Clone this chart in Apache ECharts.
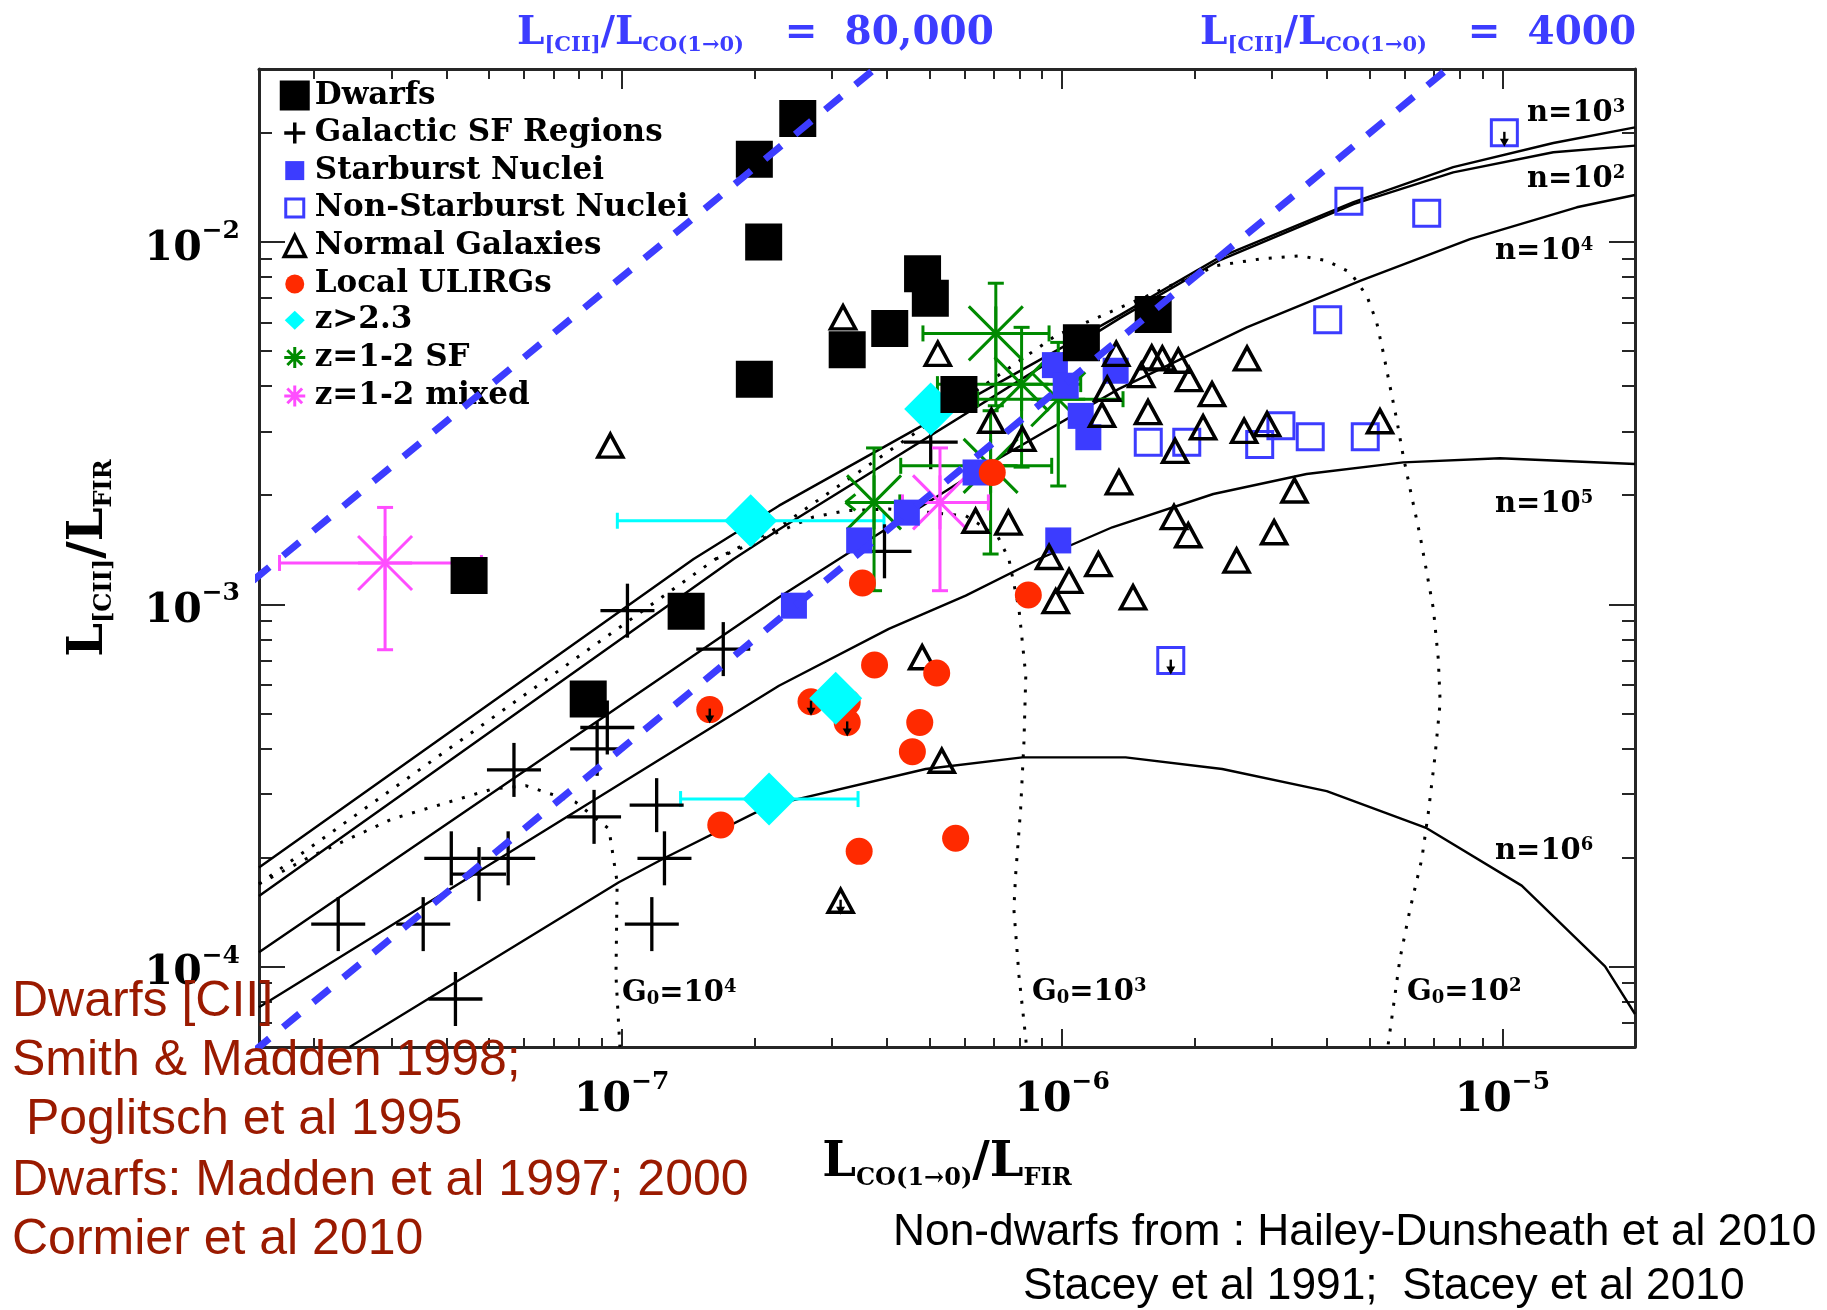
<!DOCTYPE html>
<html lang="en">
<head>
<meta charset="utf-8">
<title>[CII]/FIR versus CO(1-0)/FIR</title>
<script src="https://cdn.jsdelivr.net/npm/echarts@6.0.0/dist/echarts.min.js"></script>
<style>
  html, body { margin: 0; padding: 0; background: #ffffff; }
  #chart { width: 1827px; height: 1310px; }
</style>
</head>
<body>
<div id="chart"></div>
<script>
// ---------- axes ----------
const xRange = [1.5e-8, 2e-5];
const yRange = [6e-5, 0.03];
const xMajorTicks = [1e-7, 1e-6, 1e-5];
const xMinorTicks = [2e-8, 3e-8, 4e-8, 5e-8, 6e-8, 7e-8, 8e-8, 9e-8,
                     2e-7, 3e-7, 4e-7, 5e-7, 6e-7, 7e-7, 8e-7, 9e-7,
                     2e-6, 3e-6, 4e-6, 5e-6, 6e-6, 7e-6, 8e-6, 9e-6];
const yMajorTicks = [1e-4, 1e-3, 1e-2];
const yMinorTicks = [7e-5, 8e-5, 9e-5,
                     2e-4, 3e-4, 4e-4, 5e-4, 6e-4, 7e-4, 8e-4, 9e-4,
                     2e-3, 3e-3, 4e-3, 5e-3, 6e-3, 7e-3, 8e-3, 9e-3, 2e-2];

// ---------- observations: [L_CO/L_FIR, L_[CII]/L_FIR] ----------
const dwarfs = [
  [2.51e-7, 2.19e-2], [2.00e-7, 1.69e-2], [2.10e-7, 1.00e-2], [4.82e-7, 8.17e-3],
  [5.02e-7, 6.99e-3], [4.06e-7, 5.77e-3], [3.25e-7, 5.04e-3], [2.00e-7, 4.18e-3],
  [5.83e-7, 3.79e-3], [1.106e-6, 5.27e-3], [1.61e-6, 6.30e-3], [4.50e-8, 1.20e-3],
  [1.40e-7, 9.56e-4], [8.39e-8, 5.48e-4]
];
const galacticSF = [
  [1.03e-7, 9.60e-4], [1.70e-7, 7.52e-4], [9.27e-8, 4.57e-4], [8.79e-8, 3.99e-4],
  [5.69e-8, 3.49e-4], [8.65e-8, 2.59e-4], [1.20e-7, 2.79e-4], [4.10e-8, 1.99e-4],
  [4.74e-8, 1.80e-4], [5.52e-8, 1.99e-4], [1.25e-7, 1.99e-4], [2.27e-8, 1.31e-4],
  [3.54e-8, 1.31e-4], [1.17e-7, 1.31e-4], [4.19e-8, 8.14e-5], [5.03e-7, 2.80e-3],
  [3.95e-7, 1.40e-3]
];
const starburstNuclei = [
  [9.63e-7, 4.57e-3], [1.323e-6, 4.41e-3], [1.102e-6, 3.31e-3], [1.147e-6, 2.89e-3],
  [4.44e-7, 1.79e-3], [3.46e-7, 1.50e-3], [9.80e-7, 1.50e-3], [6.36e-7, 2.31e-3],
  [1.019e-6, 4.01e-3], [2.46e-7, 9.91e-4]
];
const nonStarburstNuclei = [
  [1.01e-5, 2.00e-2], [4.48e-6, 1.294e-2], [6.73e-6, 1.199e-2], [4.01e-6, 6.10e-3],
  [1.569e-6, 2.80e-3], [1.919e-6, 2.80e-3], [2.81e-6, 2.76e-3], [3.14e-6, 3.11e-3],
  [3.66e-6, 2.90e-3], [4.88e-6, 2.90e-3], [1.765e-6, 6.99e-4]
];
const nonStarburstLimit = [1, 0, 0, 0, 0, 0, 0, 0, 0, 0, 1];
const normalGalaxies = [
  [9.42e-8, 2.74e-3], [3.18e-7, 6.19e-3], [5.22e-7, 4.91e-3], [1.327e-6, 4.91e-3],
  [1.598e-6, 4.80e-3], [1.689e-6, 4.77e-3], [1.836e-6, 4.70e-3], [1.513e-6, 4.29e-3],
  [1.942e-6, 4.18e-3], [2.63e-6, 4.77e-3], [2.19e-6, 3.80e-3], [1.266e-6, 3.93e-3],
  [1.232e-6, 3.33e-3], [1.567e-6, 3.39e-3], [2.09e-6, 3.08e-3], [2.59e-6, 3.01e-3],
  [2.92e-6, 3.14e-3], [1.805e-6, 2.65e-3], [6.91e-7, 3.21e-3], [8.12e-7, 2.86e-3],
  [1.346e-6, 2.17e-3], [6.36e-7, 1.70e-3], [7.55e-7, 1.68e-3], [1.795e-6, 1.74e-3],
  [1.934e-6, 1.55e-3], [3.03e-6, 1.58e-3], [3.37e-6, 2.06e-3], [5.27e-6, 3.20e-3],
  [9.34e-7, 1.35e-3], [1.209e-6, 1.29e-3], [1.037e-6, 1.16e-3], [9.67e-7, 1.02e-3],
  [1.449e-6, 1.045e-3], [2.49e-6, 1.32e-3], [4.81e-7, 7.14e-4], [5.33e-7, 3.70e-4],
  [3.14e-7, 1.52e-4]
];
const normalLimit = [0,0,0,0,0,0,0,0,0,0,0,0,0,0,0,0,0,0,0,0,0,0,0,0,0,0,0,0,0,0,0,0,0,0,0,0,1];
const localULIRGs = [
  [1.584e-7, 5.12e-4], [1.678e-7, 2.46e-4], [3.52e-7, 1.145e-3], [8.38e-7, 1.061e-3],
  [3.75e-7, 6.80e-4], [5.19e-7, 6.46e-4], [2.69e-7, 5.38e-4], [3.25e-7, 4.72e-4],
  [3.25e-7, 5.36e-4], [4.75e-7, 4.72e-4], [4.57e-7, 3.92e-4], [5.73e-7, 2.26e-4],
  [3.46e-7, 2.08e-4], [6.94e-7, 2.31e-3]
];
const ulirgLimit = [1, 0, 0, 0, 0, 0, 1, 1, 0, 0, 0, 0, 0, 0];
// z > 2.3: [x, y, x_low, x_high]
const highZ = [
  [1.962e-7, 1.70e-3, 9.77e-8, 3.94e-7],
  [5.03e-7, 3.46e-3, null, null],
  [3.06e-7, 5.50e-4, null, null],
  [2.16e-7, 2.90e-4, 1.36e-7, 3.44e-7]
];
// z = 1-2: [x, y, x_low, x_high, y_low, y_high]
const midZStarForming = [
  [7.07e-7, 5.59e-3, 4.83e-7, 9.34e-7, 3.53e-3, 7.69e-3],
  [8.09e-7, 4.05e-3, 5.21e-7, 1.102e-6, 2.39e-3, 5.81e-3],
  [9.80e-7, 3.68e-3, 6.43e-7, 1.375e-6, 2.12e-3, 5.28e-3],
  [6.88e-7, 2.41e-3, 4.30e-7, 9.47e-7, 1.376e-3, 3.42e-3],
  [3.74e-7, 1.91e-3, 3.22e-7, 4.28e-7, 1.09e-3, 2.70e-3]
];
const midZStarFormingXLimit = [0, 0, 0, 0, 1];
const midZMixed = [
  [2.90e-8, 1.30e-3, 1.67e-8, 4.80e-8, 7.49e-4, 1.85e-3],
  [5.28e-7, 1.91e-3, 4.34e-7, 6.80e-7, 1.09e-3, 2.70e-3]
];

// ---------- PDR model tracks ----------
const densityN2 = [
  [1.5e-8, 1.567e-4], [1.795e-7, 1.333e-3], [2.275e-7, 1.607e-3], [1.353e-6, 6.16e-3],
  [2.284e-6, 8.91e-3], [4.59e-6, 1.272e-2], [7.73e-6, 1.556e-2], [1.305e-5, 1.767e-2],
  [2.0e-5, 1.843e-2]
];
const densityN3 = [
  [1.5e-8, 1.877e-4], [1.456e-7, 1.333e-3], [2.275e-7, 1.871e-3], [1.353e-6, 6.28e-3],
  [2.284e-6, 9.08e-3], [4.59e-6, 1.288e-2], [7.73e-6, 1.609e-2], [1.305e-5, 1.875e-2],
  [2.0e-5, 2.07e-2]
];
const densityN4 = [
  [1.5e-8, 1.095e-4], [2.275e-7, 1.045e-3], [6.48e-7, 2.35e-3], [1.346e-6, 3.93e-3],
  [2.626e-6, 5.81e-3], [4.75e-6, 7.81e-3], [8.44e-6, 1.018e-2], [1.475e-5, 1.246e-2],
  [2.0e-5, 1.347e-2]
];
const densityN5 = [
  [1.5e-8, 7.72e-5], [2.275e-7, 5.96e-4], [4.04e-7, 8.55e-4], [6.04e-7, 1.056e-3],
  [8.86e-7, 1.333e-3], [1.30e-6, 1.631e-3], [2.205e-6, 2.015e-3], [3.59e-6, 2.288e-3],
  [5.95e-6, 2.464e-3], [9.87e-6, 2.528e-3], [2.0e-5, 2.438e-3]
];
const densityN6 = [
  [2.41e-8, 6.0e-5], [9.85e-8, 1.709e-4], [1.251e-7, 1.994e-4], [2.159e-7, 2.776e-4],
  [4.90e-7, 3.51e-4], [8.12e-7, 3.78e-4], [1.394e-6, 3.78e-4], [2.31e-6, 3.51e-4],
  [3.99e-6, 3.05e-4], [6.73e-6, 2.41e-4], [1.106e-5, 1.673e-4], [1.71e-5, 1.002e-4],
  [2.0e-5, 7.40e-5]
];
const fieldG2 = [
  [1.5e-8, 1.691e-4], [1.633e-7, 1.333e-3], [2.275e-7, 1.631e-3], [9.67e-7, 5.51e-3],
  [2.245e-6, 8.60e-3], [2.813e-6, 8.97e-3], [3.47e-6, 9.16e-3], [3.99e-6, 8.87e-3],
  [4.51e-6, 8.24e-3], [4.92e-6, 7.10e-3], [5.18e-6, 6.00e-3], [5.36e-6, 4.96e-3],
  [5.55e-6, 4.01e-3], [5.75e-6, 3.24e-3], [5.95e-6, 2.57e-3], [6.17e-6, 2.08e-3],
  [6.50e-6, 1.546e-3], [6.97e-6, 9.70e-4], [7.15e-6, 7.06e-4], [7.22e-6, 5.36e-4],
  [7.03e-6, 3.82e-4], [6.79e-6, 2.67e-4], [6.56e-6, 1.982e-4], [6.17e-6, 1.442e-4],
  [5.85e-6, 1.050e-4], [5.51e-6, 6.18e-5], [5.49e-6, 6.0e-5]
];
const fieldG3 = [
  [1.633e-7, 1.333e-3], [2.708e-7, 1.738e-3], [3.225e-7, 1.812e-3], [4.04e-7, 1.832e-3],
  [6.04e-7, 1.755e-3], [7.13e-7, 1.546e-3], [7.57e-7, 1.333e-3], [7.98e-7, 9.70e-4],
  [8.27e-7, 6.35e-4], [8.19e-7, 4.16e-4], [8.05e-7, 2.724e-4], [7.84e-7, 1.782e-4],
  [7.77e-7, 1.442e-4], [7.98e-7, 9.44e-5], [8.27e-7, 6.32e-5], [8.30e-7, 6.0e-5]
];
const fieldG4 = [
  [1.5e-8, 1.691e-4], [1.948e-8, 2.003e-4], [3.01e-8, 2.556e-4], [5.08e-8, 3.09e-4],
  [6.05e-8, 3.157e-4], [7.86e-8, 2.842e-4], [9.35e-8, 2.399e-4], [9.76e-8, 1.709e-4],
  [9.70e-8, 9.44e-5], [9.90e-8, 6.0e-5]
];

// constant L[CII]/L_CO(1-0) ratios, traced across this CO/FIR span
const ciiCoRatios = [80000, 4000];
const ratioSpan = [1e-9, 1e-3];

// ---------- styling ----------
const SERIF = '"DejaVu Serif", serif';
const ARIAL = '"Liberation Sans", Arial, sans-serif';
const INK = '#000000';
const FRAME = '#262626';
const BLUE = '#3c3cff';
const RED = '#ff2a00';
const CYAN = '#00ffff';
const GREEN = '#008a00';
const MAGENTA = '#ff4dff';
const BROWN = '#9a1a00';

function powerLabel(v) {
  const e = Math.round(Math.log10(v));
  return '{b|10}{e|' + String(e).replace('-', '\u2212') + '}';
}

function axisPair(kind, position, major, minor, majorLen, minorLen, extra) {
  const range = kind === 'x' ? xRange : yRange;
  const base = {
    type: 'log', logBase: 10, min: range[0], max: range[1], position: position,
    splitLine: { show: false }, minorTick: { show: false }, minorSplitLine: { show: false }
  };
  const main = Object.assign({}, base, {
    axisLine: { show: true, onZero: false, lineStyle: { color: FRAME, width: 3 } },
    axisTick: { show: true, inside: true, length: majorLen, customValues: major,
                lineStyle: { color: FRAME, width: 2 } },
    axisLabel: { show: false }
  }, extra || {});
  const sub = Object.assign({}, base, {
    axisLine: { show: false, onZero: false },
    axisTick: { show: true, inside: true, length: minorLen, customValues: minor,
                lineStyle: { color: FRAME, width: 2 } },
    axisLabel: { show: false }
  });
  return [main, sub];
}

const titleRich = {
  L: { fontFamily: SERIF, fontWeight: 'bold', fontSize: 48, lineHeight: 54, color: INK },
  s: { fontFamily: SERIF, fontWeight: 'bold', fontSize: 24, lineHeight: 24, verticalAlign: 'bottom', color: INK }
};

const xAxes = [].concat(
  axisPair('x', 'bottom', xMajorTicks, xMinorTicks, 18, 9, {
    axisLabel: {
      show: true, customValues: xMajorTicks, margin: 23, formatter: powerLabel,
      rich: {
        b: { fontFamily: SERIF, fontWeight: 'bold', fontSize: 41, lineHeight: 60, color: INK },
        e: { fontFamily: SERIF, fontWeight: 'bold', fontSize: 25, lineHeight: 18, verticalAlign: 'top', color: INK }
      }
    },
    name: '{L|L}{s|CO(1\u21920)}{L|/L}{s|FIR}',
    nameLocation: 'middle', nameGap: 90,
    nameTextStyle: { rich: titleRich }
  }),
  axisPair('x', 'top', xMajorTicks, xMinorTicks, 20, 10)
);
const yAxes = [].concat(
  axisPair('y', 'left', yMajorTicks, yMinorTicks, 26, 13, {
    axisLabel: {
      show: true, customValues: yMajorTicks, margin: 19, formatter: powerLabel,
      padding: [14, 0, 0, 0],
      rich: {
        b: { fontFamily: SERIF, fontWeight: 'bold', fontSize: 41, lineHeight: 60, color: INK },
        e: { fontFamily: SERIF, fontWeight: 'bold', fontSize: 25, lineHeight: 34, verticalAlign: 'top', color: INK }
      }
    },
    name: '{L|L}{s|[CII]}{L|/L}{s|FIR}',
    nameLocation: 'middle', nameRotate: 90, nameGap: 142,
    nameTextStyle: { rich: titleRich }
  }),
  axisPair('y', 'right', yMajorTicks, yMinorTicks, 26, 13)
);

// ---------- custom mark renderers ----------
function seg(list, color, width, x1, y1, x2, y2) {
  list.push({ type: 'line', shape: { x1: x1, y1: y1, x2: x2, y2: y2 },
              style: { stroke: color, lineWidth: width } });
}

function renderCross(params, api) {
  const c = api.coord([api.value(0), api.value(1)]);
  const arm = 27, parts = [];
  seg(parts, INK, 3.3, c[0] - arm, c[1], c[0] + arm, c[1]);
  seg(parts, INK, 3.3, c[0], c[1] - arm, c[0], c[1] + arm);
  return { type: 'group', children: parts };
}

function starRenderer(color, xLimitFlags) {
  return function (params, api) {
    const x = api.value(0), y = api.value(1);
    const c = api.coord([x, y]);
    const parts = [];
    const cap = 8, arm = 27, w = 3;
    const xlo = api.value(2), xhi = api.value(3), ylo = api.value(4), yhi = api.value(5);
    if (isFinite(xlo) && isFinite(xhi)) {
      const l = api.coord([xlo, y])[0], r = api.coord([xhi, y])[0];
      seg(parts, color, w, l, c[1], r, c[1]);
      if (xLimitFlags && xLimitFlags[params.dataIndex]) {
        seg(parts, color, w, l, c[1], l + 10, c[1] - 8);
        seg(parts, color, w, l, c[1], l + 10, c[1] + 8);
      } else {
        seg(parts, color, w, l, c[1] - cap, l, c[1] + cap);
      }
      seg(parts, color, w, r, c[1] - cap, r, c[1] + cap);
    }
    if (isFinite(ylo) && isFinite(yhi)) {
      const b = api.coord([x, ylo])[1], t = api.coord([x, yhi])[1];
      seg(parts, color, w, c[0], b, c[0], t);
      seg(parts, color, w, c[0] - cap, b, c[0] + cap, b);
      seg(parts, color, w, c[0] - cap, t, c[0] + cap, t);
    }
    seg(parts, color, w, c[0] - arm, c[1], c[0] + arm, c[1]);
    seg(parts, color, w, c[0], c[1] - arm, c[0], c[1] + arm);
    seg(parts, color, w, c[0] - arm, c[1] - arm, c[0] + arm, c[1] + arm);
    seg(parts, color, w, c[0] - arm, c[1] + arm, c[0] + arm, c[1] - arm);
    return { type: 'group', children: parts };
  };
}

function renderXErrors(params, api) {
  const x = api.value(0), y = api.value(1);
  const xlo = api.value(2), xhi = api.value(3);
  const parts = [];
  if (isFinite(xlo) && isFinite(xhi)) {
    const c = api.coord([x, y]);
    const l = api.coord([xlo, y])[0], r = api.coord([xhi, y])[0];
    seg(parts, CYAN, 3, l, c[1], r, c[1]);
    seg(parts, CYAN, 3, l, c[1] - 8, l, c[1] + 8);
    seg(parts, CYAN, 3, r, c[1] - 8, r, c[1] + 8);
  }
  return { type: 'group', children: parts };
}

function renderLimitArrow(params, api) {
  const c = api.coord([api.value(0), api.value(1)]);
  return { type: 'group', children: [
    { type: 'line', shape: { x1: c[0], y1: c[1] - 1, x2: c[0], y2: c[1] + 8 },
      style: { stroke: INK, lineWidth: 2.4 } },
    { type: 'polygon', shape: { points: [[c[0] - 4.5, c[1] + 6], [c[0] + 4.5, c[1] + 6], [c[0], c[1] + 14]] },
      style: { fill: INK } }
  ] };
}

const flagged = (points, flags) => points.filter((p, i) => flags[i]);

function track(name, data, dotted) {
  return {
    name: name, type: 'line', data: data, xAxisIndex: 0, yAxisIndex: 0,
    showSymbol: false, silent: true, clip: true, z: 2, animation: false,
    lineStyle: dotted
      ? { color: INK, width: 3, type: [3, 10] }
      : { color: INK, width: 2.4 }
  };
}

const custom = (name, data, renderItem, z) => ({
  name: name, type: 'custom', coordinateSystem: 'cartesian2d', xAxisIndex: 0, yAxisIndex: 0,
  data: data, renderItem: renderItem, encode: { x: 0, y: 1 }, silent: true, z: z, animation: false
});

const solid = (color, extra) => Object.assign({ color: color, opacity: 1 }, extra || {});

const series = [
  track('n = 1e2', densityN2), track('n = 1e3', densityN3), track('n = 1e4', densityN4),
  track('n = 1e5', densityN5), track('n = 1e6', densityN6),
  track('G0 = 1e2', fieldG2, true), track('G0 = 1e3', fieldG3, true), track('G0 = 1e4', fieldG4, true),
  { name: 'Starburst Nuclei', type: 'scatter', data: starburstNuclei, symbol: 'rect', symbolSize: 26,
    itemStyle: solid(BLUE), z: 3 },
  { name: 'Non-Starburst Nuclei', type: 'scatter', data: nonStarburstNuclei, symbol: 'rect', symbolSize: 26,
    itemStyle: solid('rgba(0,0,0,0)', { borderColor: BLUE, borderWidth: 3 }), z: 3 },
  { name: 'Normal Galaxies', type: 'scatter', data: normalGalaxies, symbol: 'triangle', symbolSize: [25, 23],
    itemStyle: solid('rgba(0,0,0,0)', { borderColor: INK, borderWidth: 3.5 }), z: 3 },
  { name: 'Local ULIRGs', type: 'scatter', data: localULIRGs, symbol: 'circle', symbolSize: 27,
    itemStyle: solid(RED), z: 3 },
  custom('z>2.3 errors', highZ, renderXErrors, 3),
  { name: 'z>2.3', type: 'scatter', data: highZ.map(p => [p[0], p[1]]), symbol: 'diamond', symbolSize: 53,
    itemStyle: solid(CYAN), z: 3 },
  { name: 'Dwarfs', type: 'scatter', data: dwarfs, symbol: 'rect', symbolSize: 37,
    itemStyle: solid(INK), z: 3 },
  Object.assign(custom('Galactic SF Regions', galacticSF, renderCross, 3), { itemStyle: { color: INK } }),
  Object.assign(custom('z=1-2 SF', midZStarForming, starRenderer(GREEN, midZStarFormingXLimit), 3),
                { itemStyle: { color: GREEN } }),
  Object.assign(custom('z=1-2 mixed', midZMixed, starRenderer(MAGENTA), 3), { itemStyle: { color: MAGENTA } }),
  custom('upper limits',
         [].concat(flagged(localULIRGs, ulirgLimit), flagged(nonStarburstNuclei, nonStarburstLimit),
                   flagged(normalGalaxies, normalLimit)),
         renderLimitArrow, 4)
].concat(ciiCoRatios.map(r => ({
  name: 'L[CII]/LCO = ' + r, type: 'line', xAxisIndex: 0, yAxisIndex: 0,
  data: ratioSpan.map(x => [x, r * x]), showSymbol: false, silent: true, clip: true, z: 5,
  lineStyle: { color: BLUE, width: 7, type: [21, 18], cap: 'butt', opacity: 1 }
})));
series.forEach(s => { s.animation = false; if (s.type === 'scatter') { s.silent = true; s.xAxisIndex = 0; s.yAxisIndex = 0; } });

// ---------- legend ----------
const PAD = 'M0,0M30,30';
const legendItems = [
  { name: 'Dwarfs', icon: 'rect', itemStyle: { color: INK, borderWidth: 0, opacity: 1 } },
  { name: 'Galactic SF Regions', icon: 'path://' + PAD + 'M15,4.5V25.5M4.5,15H25.5',
    itemStyle: { color: 'rgba(0,0,0,0)', borderColor: INK, borderWidth: 3.5, opacity: 1 } },
  { name: 'Starburst Nuclei', icon: 'path://' + PAD + 'M5.5,5.5H24.5V24.5H5.5Z',
    itemStyle: { color: BLUE, borderWidth: 0, opacity: 1 } },
  { name: 'Non-Starburst Nuclei', icon: 'path://' + PAD + 'M6,6H24V24H6Z',
    itemStyle: { color: 'rgba(0,0,0,0)', borderColor: BLUE, borderWidth: 3, opacity: 1 } },
  { name: 'Normal Galaxies', icon: 'path://' + PAD + 'M15,4L25.5,25H4.5Z',
    itemStyle: { color: 'rgba(0,0,0,0)', borderColor: INK, borderWidth: 3.5, opacity: 1 } },
  { name: 'Local ULIRGs', icon: 'path://' + PAD + 'M5.5,15A9.5,9.5,0,1,0,24.5,15A9.5,9.5,0,1,0,5.5,15Z',
    itemStyle: { color: RED, borderWidth: 0, opacity: 1 } },
  { name: 'z>2.3', icon: 'path://' + PAD + 'M15,5.5L25,15L15,24.5L5,15Z',
    itemStyle: { color: CYAN, borderWidth: 0, opacity: 1 } },
  { name: 'z=1-2 SF', icon: 'path://' + PAD + 'M15,4.5V25.5M4.5,15H25.5M7.6,7.6L22.4,22.4M22.4,7.6L7.6,22.4',
    itemStyle: { color: 'rgba(0,0,0,0)', borderColor: GREEN, borderWidth: 3, opacity: 1 } },
  { name: 'z=1-2 mixed', icon: 'path://' + PAD + 'M15,4.5V25.5M4.5,15H25.5M7.6,7.6L22.4,22.4M22.4,7.6L7.6,22.4',
    itemStyle: { color: 'rgba(0,0,0,0)', borderColor: MAGENTA, borderWidth: 3, opacity: 1 } }
];

// ---------- annotation texts ----------
function blueRatioLabel(x, value) {
  return {
    type: 'text', x: x, y: 34, z: 10, silent: true,
    style: {
      text: '{L|L}{s|[CII]}{L|/L}{s|CO(1\u21920)}{L|   =  ' + value + '}',
      verticalAlign: 'middle', align: 'left',
      rich: {
        L: { fontFamily: SERIF, fontWeight: 'bold', fontSize: 39, lineHeight: 44, fill: BLUE },
        s: { fontFamily: SERIF, fontWeight: 'bold', fontSize: 21, lineHeight: 22, verticalAlign: 'bottom', fill: BLUE }
      }
    }
  };
}
function modelLabel(x, y, head, power) {
  return {
    type: 'text', x: x, y: y, z: 10, silent: true,
    style: {
      text: head + '{p|' + power + '}', verticalAlign: 'middle', align: 'left',
      font: 'bold 29px ' + SERIF, fill: INK,
      rich: {
        t: { fontFamily: SERIF, fontWeight: 'bold', fontSize: 29, lineHeight: 30, fill: INK },
        o: { fontFamily: SERIF, fontWeight: 'bold', fontSize: 18, lineHeight: 12, verticalAlign: 'bottom', fill: INK },
        p: { fontFamily: SERIF, fontWeight: 'bold', fontSize: 18, lineHeight: 8, verticalAlign: 'top', fill: INK }
      }
    }
  };
}
function noteLine(x, y, text, size, color) {
  return { type: 'text', x: x, y: y, z: 10, silent: true,
           style: { text: text, font: size + 'px ' + ARIAL, fill: color, verticalAlign: 'middle', align: 'left' } };
}

const graphics = [
  blueRatioLabel(517, '80,000'),
  blueRatioLabel(1200, '4000'),
  modelLabel(1527, 113, '{t|n=10}', '3'),
  modelLabel(1527, 179, '{t|n=10}', '2'),
  modelLabel(1495, 251, '{t|n=10}', '4'),
  modelLabel(1495, 504, '{t|n=10}', '5'),
  modelLabel(1495, 851, '{t|n=10}', '6'),
  modelLabel(622, 993, '{t|G}{o|0}{t|=10}', '4'),
  modelLabel(1032, 992, '{t|G}{o|0}{t|=10}', '3'),
  modelLabel(1407, 992, '{t|G}{o|0}{t|=10}', '2'),
  noteLine(12, 1002, 'Dwarfs [CII]', 50, BROWN),
  noteLine(12, 1061, 'Smith & Madden 1998;', 50, BROWN),
  noteLine(12, 1120, ' Poglitsch et al 1995', 50, BROWN),
  noteLine(12, 1181, 'Dwarfs: Madden et al 1997; 2000', 50, BROWN),
  noteLine(12, 1240, 'Cormier et al 2010', 50, BROWN),
  noteLine(893, 1233, 'Non-dwarfs from : Hailey-Dunsheath et al 2010', 44.3, INK),
  noteLine(1023, 1287, 'Stacey et al 1991;  Stacey et al 2010', 44.3, INK)
];

const chart = echarts.init(document.getElementById('chart'), null, { renderer: 'canvas', width: 1827, height: 1310 });
chart.setOption({
  animation: false,
  backgroundColor: '#ffffff',
  grid: { left: 259, top: 69, width: 1376, height: 978, containLabel: false },
  xAxis: xAxes,
  yAxis: yAxes,
  legend: {
    orient: 'vertical', left: 278, top: 80, padding: 0,
    itemWidth: 30, itemHeight: 30, itemGap: 5.3, itemTextGap: 10,
    selectedMode: false, symbolKeepAspect: true,
    textStyle: { fontFamily: SERIF, fontWeight: 'bold', fontSize: 31, lineHeight: 30, color: INK },
    data: legendItems
  },
  series: series,
  graphic: graphics
});
</script>
</body>
</html>
